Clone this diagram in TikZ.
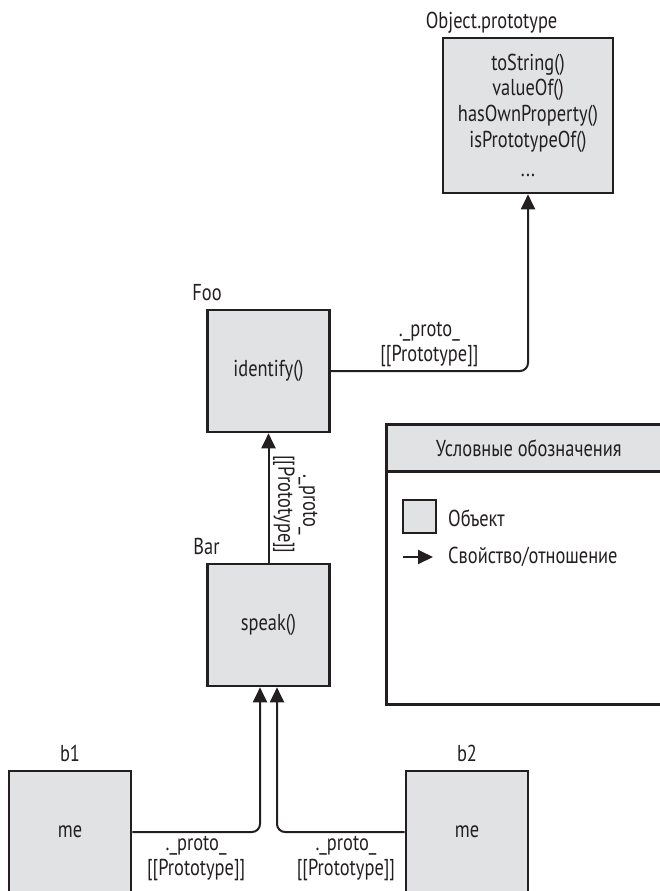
\documentclass[tikz,border=0pt]{standalone}
\usepackage{fontspec}
\setmainfont{PT Sans}[FakeStretch=0.8]
\usepackage{tikz}
\usetikzlibrary{arrows.meta, positioning}
\definecolor{boxfill}{HTML}{E1E2E4}
\definecolor{inkgray}{HTML}{231F20}

\begin{document}
\begin{tikzpicture}[x=1pt, y=-1pt, node distance=254pt, on grid, auto, font=\fontsize{23}{25.7}\selectfont, text=inkgray]
  \tikzstyle{object} = [draw=inkgray, line width=2.6pt, fill=boxfill, rectangle, minimum width=122pt, minimum height=122pt, inner sep=0pt, align=center]
  \tikzstyle{objName} = [anchor=base west, inner sep=0pt]
  \tikzstyle{protoEdge} = [draw=inkgray, line width=2pt, rounded corners=8pt, -{Triangle[length=15pt, width=14pt]}]
  \tikzstyle{edgeLabel} = [align=center, inner sep=3.5pt, font={\fontsize{23}{25}\selectfont}]
  \tikzstyle{legendBox} = [draw=inkgray, line width=2.6pt, rectangle, minimum width=285pt, anchor=north west, inner sep=0pt]

  \useasboundingbox (0,0) rectangle (660,891);

  \node[object, minimum width=170pt, minimum height=155pt](op) at (528,115.5) {toString()\\valueOf()\\hasOwnProperty()\\isPrototypeOf()\\[4pt]...};
  \node[object](foo) at (268.5,371) {identify()};
  \node[object](bar) [below=of foo]{speak()};
  \node[object](b1) [below left=207pt and 198.5pt of bar]{me};
  \node[object](b2) [below right=207pt and 198.5pt of bar]{me};

  \node[objName](opName) at ([xshift=-16pt, yshift=8pt]op.north west) {Object.prototype};
  \node[objName](fooName) at ([xshift=-14pt, yshift=8pt]foo.north west) {Foo};
  \node[objName](barName) at ([xshift=-13pt, yshift=8pt]bar.north west) {Bar};
  \node[objName, anchor=base](b1Name) at ([yshift=8pt]b1.north) {b1};
  \node[objName, anchor=base](b2Name) at ([yshift=8pt]b2.north) {b2};

  \draw[protoEdge] (foo.east) -| (op.south)
    node[edgeLabel, pos=0.25, above] (fooProto) {.\_proto\_\\{[[Prototype]]}};
  \draw[protoEdge] (bar.north) -- (foo.south)
    node[edgeLabel, pos=0.45, rotate=-90, anchor=south] (barProto) {.\_proto\_\\{[[Prototype]]}};
  \draw[protoEdge] (b1.east) -| ([xshift=-8.5pt]bar.south)
    node[edgeLabel, pos=0.25, below] (b1Proto) {.\_proto\_\\{[[Prototype]]}};
  \draw[protoEdge] (b2.west) -| ([xshift=8.5pt]bar.south)
    node[edgeLabel, pos=0.23, below] (b2Proto) {.\_proto\_\\{[[Prototype]]}};

  \node[legendBox, minimum height=233pt](legBody) at (385,470) {};
  \node[legendBox, fill=boxfill, minimum height=47pt](legHead) at (385,423) {Условные обозначения};
  \node[object, minimum width=33pt, minimum height=33pt](legObj) at (419.5,516.5) {};
  \node[anchor=west, inner sep=0pt](legObjText) at (448,518) {Объект};
  \coordinate (legArrow) at (403,557);
  \node[anchor=west, inner sep=0pt](legRel) at (448,557) {Свойство/отношение};
  \draw[protoEdge, shorten >=15pt] (legArrow) -- (legRel.west);
\end{tikzpicture}
\end{document}
